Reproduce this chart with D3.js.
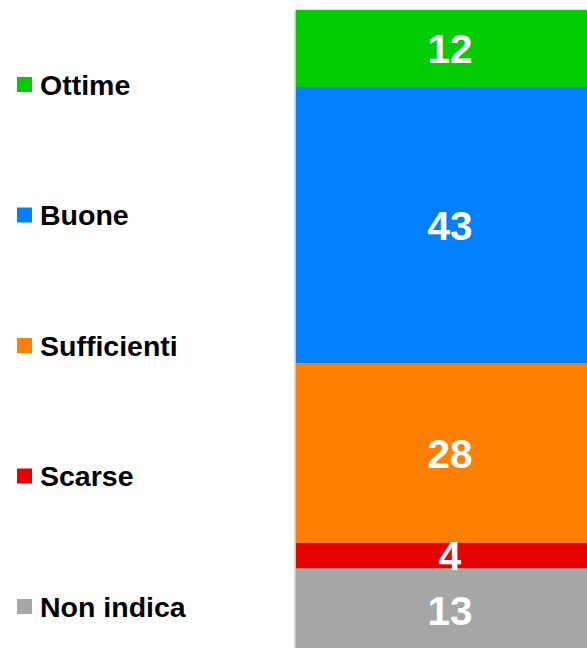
<!DOCTYPE html>
<html>
<head>
<meta charset="utf-8">
<script src="https://cdn.jsdelivr.net/npm/d3@7"></script>
<style>
  body { margin: 0; background: #fff; }
  svg { display: block; }
</style>
</head>
<body>
<svg id="chart" width="587" height="648"></svg>
<script>
// categorie e valori (percentuali)
const categories = ["Ottime", "Buone", "Sufficienti", "Scarse", "Non indica"];
const values = [12, 43, 28, 4, 13];
const colors = ["#00cc00", "#0080ff", "#ff8000", "#e60000", "#a6a6a6"];

const svg = d3.select("#chart");

// barra impilata verticale
const barLeft = 296, barRight = 604;
const yScale = d3.scaleLinear()
    .domain([0, 100])
    .range([10, 652]);

let acc = 0;
const segments = values.map((v, i) => {
    const s = { cat: categories[i], value: v, y0: acc, y1: acc + v, color: colors[i] };
    acc += v;
    return s;
});

// ombra leggera
const defs = svg.append("defs");
defs.append("filter")
    .attr("id", "shadow")
    .attr("x", "-5%").attr("y", "-5%").attr("width", "110%").attr("height", "110%")
    .append("feDropShadow")
    .attr("dx", -1).attr("dy", 0).attr("stdDeviation", 1.2)
    .attr("flood-color", "#000").attr("flood-opacity", 0.35);

const bar = svg.append("g").attr("filter", "url(#shadow)");

bar.selectAll("rect")
    .data(segments)
    .join("rect")
    .attr("x", barLeft)
    .attr("width", barRight - barLeft)
    .attr("y", d => yScale(d.y0))
    .attr("height", d => yScale(d.y1) - yScale(d.y0))
    .attr("fill", d => d.color);

svg.selectAll("text.val")
    .data(segments)
    .join("text")
    .attr("class", "val")
    .attr("x", (barLeft + barRight) / 2)
    .attr("y", d => (yScale(d.y0) + yScale(d.y1)) / 2)
    .attr("dy", "0.36em")
    .attr("text-anchor", "middle")
    .attr("fill", "#fff")
    .style("font-family", "'Liberation Sans', Arial, sans-serif")
    .style("font-weight", "bold")
    .style("font-size", "40.5px")
    .text(d => d.value);

// legenda a sinistra
const legendY = d3.scalePoint()
    .domain(categories)
    .range([84.5, 606.5]);

const legend = svg.append("g")
    .selectAll("g")
    .data(segments)
    .join("g")
    .attr("transform", d => `translate(17,${legendY(d.cat)})`);

legend.append("rect")
    .attr("x", 0)
    .attr("y", -7.5)
    .attr("width", 15)
    .attr("height", 15)
    .attr("fill", d => d.color);

legend.append("text")
    .attr("x", 23)
    .attr("y", 0)
    .attr("dy", "0.36em")
    .style("font-family", "'Liberation Sans', Arial, sans-serif")
    .style("font-weight", "bold")
    .style("font-size", "28.5px")
    .attr("fill", "#000")
    .text(d => d.cat);
</script>
</body>
</html>
